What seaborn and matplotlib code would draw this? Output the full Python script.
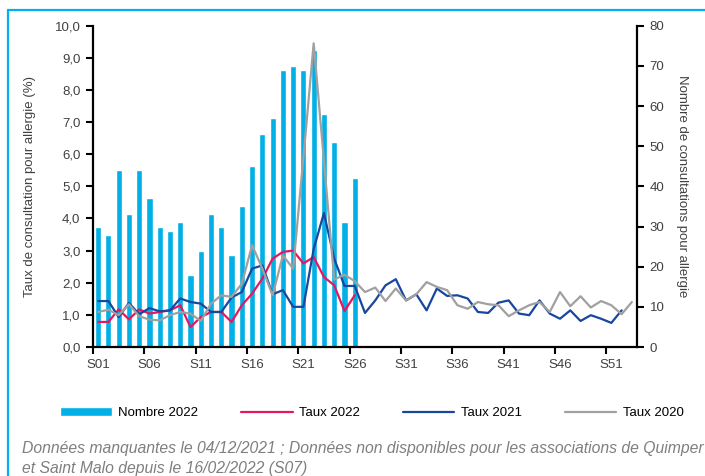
import numpy as np
import pandas as pd
import matplotlib
matplotlib.use("Agg")
import matplotlib.pyplot as plt
import matplotlib.ticker as mticker
from matplotlib.lines import Line2D
import seaborn as sns

# ---------------- data ----------------
weeks = [f"S{i:02d}" for i in range(1, 54)]
nombre_2022 = [30, 28, 44, 33, 44, 37, 30, 29, 31, 18, 24, 33, 30, 23, 35, 45,
               53, 57, 69, 70, 69, 74, 58, 51, 31, 42]
taux_2022 = [0.78, 0.78, 1.17, 0.86, 1.17, 1.04, 1.09, 1.14, 1.30, 0.62, 0.93,
             1.09, 1.09, 0.78, 1.30, 1.66, 2.13, 2.75, 2.96, 3.00, 2.60, 2.80,
             2.18, 1.92, 1.12, 1.61]
taux_2021 = [1.43, 1.43, 0.93, 1.37, 1.02, 1.21, 1.11, 1.14, 1.51, 1.40, 1.35,
             1.09, 1.09, 1.54, 1.71, 2.44, 2.54, 1.64, 1.77, 1.25, 1.25, 3.05,
             4.17, 2.75, 1.90, 1.90, 1.06, 1.45, 1.92, 2.11, 1.45, 1.64, 1.14,
             1.82, 1.59, 1.61, 1.51, 1.09, 1.06, 1.38, 1.45, 1.04, 0.99, 1.45,
             1.04, 0.88, 1.14, 0.81, 0.99, 0.88, 0.75, 1.14]
taux_2020 = [1.09, 1.16, 0.99, 1.33, 0.96, 0.85, 0.83, 0.99, 1.09, 1.04, 0.81,
             1.35, 1.61, 1.56, 1.97, 3.17, 2.44, 1.61, 2.85, 2.44, 5.90, 9.45,
             5.80, 2.10, 2.25, 2.05, 1.71, 1.85, 1.43, 1.82, 1.45, 1.64, 2.02,
             1.87, 1.77, 1.30, 1.19, 1.40, 1.33, 1.30, 0.96, 1.14, 1.30, 1.40,
             1.09, 1.71, 1.27, 1.58, 1.23, 1.43, 1.30, 1.02, 1.40]
left_ticks = [0, 1, 2, 3, 4, 5, 6, 7, 8, 9, 10]
right_ticks = [0, 10, 20, 30, 40, 50, 60, 70, 80]
ylabel_left = "Taux de consultation pour allergie (%)"
ylabel_right = "Nombre de consultations pour allergie"
footnote_1 = ("Données manquantes le 04/12/2021 ; Données non disponibles pour "
              "les associations de Quimper")
footnote_2 = "et Saint Malo depuis le 16/02/2022 (S07)"

# ---------------- style ----------------
sns.set_theme(style="white")
plt.rcParams["font.family"] = ["Liberation Sans Narrow", "Liberation Sans", "DejaVu Sans"]

C_BAR = "#00B0E6"
C_2022 = "#E5175F"
C_2021 = "#17479E"
C_2020 = "#A0A0A0"
C_TXT = "#404040"

fig = plt.figure(figsize=(7.05, 4.76), dpi=100)
fig.patch.set_facecolor("white")
ax = fig.add_axes([93 / 705, 1 - 347 / 476, (637 - 93) / 705, (347 - 25.7) / 476])
ax2 = ax.twinx()

idx = np.arange(len(weeks))
df_bar = pd.DataFrame({"x": idx[:len(nombre_2022)], "y": nombre_2022})
sns.barplot(data=df_bar, x="x", y="y", ax=ax2, native_scale=True, width=0.6,
            color=C_BAR, saturation=1, label="Nombre 2022")

for vals, col, lab in [(taux_2022, C_2022, "Taux 2022"),
                       (taux_2021, C_2021, "Taux 2021"),
                       (taux_2020, C_2020, "Taux 2020")]:
    d = pd.DataFrame({"x": idx[:len(vals)], "y": vals})
    sns.lineplot(data=d, x="x", y="y", ax=ax, color=col, linewidth=1.6, label=lab)

# lines above bars
ax.set_zorder(ax2.get_zorder() + 1)
ax.patch.set_visible(False)

ax.set_xlim(-0.5, len(weeks) - 0.5)
ax.set_ylim(0, 10)
ax2.set_ylim(0, 80)

ax.set_yticks(left_ticks)
ax.yaxis.set_major_formatter(mticker.FuncFormatter(lambda v, p: f"{v:.1f}".replace(".", ",")))
ax2.set_yticks(right_ticks)
ax2.yaxis.set_major_formatter(mticker.FuncFormatter(lambda v, p: f"{int(v)}"))

ax.set_xticks(idx[::5])
ax.set_xticklabels(weeks[::5])
ax.set_xticks(np.arange(-0.5, len(weeks) - 1, 5), minor=True)
ax.tick_params(axis="x", which="major", length=0, pad=9, labelsize=9.5, labelcolor=C_TXT)
ax.tick_params(axis="x", which="minor", length=5, width=1.5, color="black", direction="out", bottom=True)
ax.tick_params(axis="y", length=5, width=1.5, color="black", direction="out", left=True,
               labelsize=9.5, labelcolor=C_TXT, pad=4)
ax2.tick_params(axis="y", length=5, width=1.5, color="black", direction="out", right=True,
                labelsize=9.5, labelcolor=C_TXT, pad=4)

for a in (ax, ax2):
    for s in a.spines.values():
        s.set_visible(False)
ax.spines["left"].set_visible(True)
ax.spines["bottom"].set_visible(True)
ax2.spines["right"].set_visible(True)
for s in (ax.spines["left"], ax.spines["bottom"], ax2.spines["right"]):
    s.set_color("black")
    s.set_linewidth(1.6)

ax.set_xlabel("")
ax.set_ylabel(ylabel_left, fontsize=9.5, color=C_TXT, labelpad=6)
ax2.set_ylabel(ylabel_right, fontsize=9.5, color=C_TXT, rotation=270, labelpad=14)
ax.yaxis.set_label_coords(-0.105, 0.5)
ax2.yaxis.set_label_coords(1.094, 0.5)

# legend
h1, l1 = ax2.get_legend_handles_labels()
h2, l2 = ax.get_legend_handles_labels()
for a in (ax, ax2):
    if a.get_legend() is not None:
        a.get_legend().remove()
fig.legend(h1 + h2, l1 + l2, loc="center", bbox_to_anchor=(372 / 705, 1 - 413 / 476),
           ncol=4, frameon=False, fontsize=9.5, handlelength=3.9, handleheight=0.6,
           handletextpad=0.5, columnspacing=3.25, labelcolor="black")

# footnote
fig.text(22 / 705, 1 - 448 / 476, footnote_1, fontsize=11.3, style="italic",
         color="#7F7F7F", va="center", ha="left")
fig.text(22 / 705, 1 - 468 / 476, footnote_2, fontsize=11.3, style="italic",
         color="#7F7F7F", va="center", ha="left")

# cyan frame
fig.add_artist(Line2D([8 / 705, 1], [1 - 10 / 476] * 2, transform=fig.transFigure,
                      color="#00B0F0", linewidth=1.6))
fig.add_artist(Line2D([8 / 705] * 2, [0, 1 - 10 / 476], transform=fig.transFigure,
                      color="#00B0F0", linewidth=1.6))

fig.savefig("out.png", dpi=100)
